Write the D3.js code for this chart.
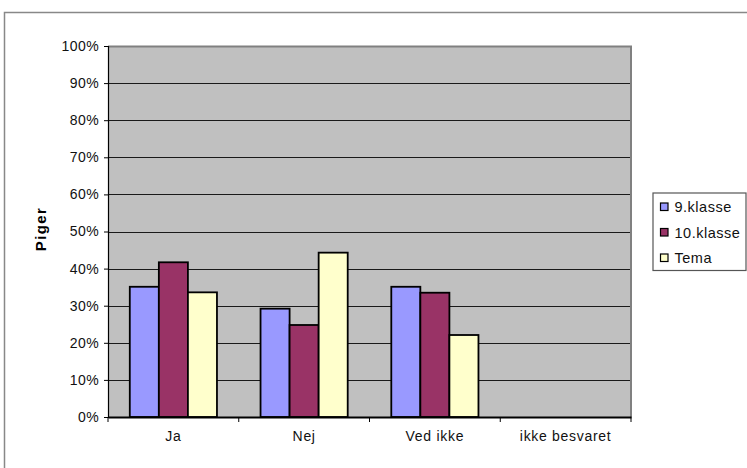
<!DOCTYPE html>
<html><head><meta charset="utf-8">
<script src="https://cdn.jsdelivr.net/npm/d3@7/dist/d3.min.js"></script>
<style>body{margin:0;background:#fff}svg{display:block;font-family:"Liberation Sans",Arial,sans-serif}</style>
</head><body><div id="chart"></div>
<script>
const categories = ["Ja", "Nej", "Ved ikke", "ikke besvaret"];
const seriesNames = ["9.klasse", "10.klasse", "Tema"];
const klasse9 = [35.1, 29.2, 35.1, 0];
const klasse10 = [41.7, 24.8, 33.5, 0];
const tema = [33.6, 44.3, 22.1, 0];
const yTicks = [0, 10, 20, 30, 40, 50, 60, 70, 80, 90, 100];
const colors = ["#9999FF", "#993366", "#FFFFCC"];
const seriesValues = [klasse9, klasse10, tema];

const W = 747, H = 468;
const svg = d3.select("#chart").append("svg").attr("width", W).attr("height", H);

// outer chart border
svg.append("rect").attr("x", 4.5).attr("y", 12.5).attr("width", 800).attr("height", 500)
  .attr("fill", "none").attr("stroke", "#888").attr("stroke-width", 1.5);

const L = 108, R = 631, T = 46, B = 417;
const x0 = d3.scaleBand().domain(categories).range([L, R]).paddingInner(0).paddingOuter(0);
const bw = x0.bandwidth();
const barW = bw / 4.5;
const x1 = d3.scaleBand().domain(seriesNames).range([0, barW * 3]);
const y = d3.scaleLinear().domain([0, 100]).range([B, T]);

// plot area
svg.append("rect").attr("x", L).attr("y", T).attr("width", R - L).attr("height", B - T)
  .attr("fill", "#C0C0C0");
// gridlines
svg.append("g").selectAll("line").data(yTicks.filter(d => d > 0)).join("line")
  .attr("x1", L).attr("x2", R).attr("y1", d => Math.round(y(d)) + 0.5).attr("y2", d => Math.round(y(d)) + 0.5)
  .attr("stroke", "#1a1a1a").attr("stroke-width", 1);
// top/right plot border gray
svg.append("path").attr("d", `M${L},${T + 0.5}H${R}V${B}`).attr("fill", "none")
  .attr("stroke", "#808080").attr("stroke-width", 2);

// bars
const groups = svg.append("g").selectAll("g").data(categories).join("g")
  .attr("transform", c => `translate(${x0(c) + (bw - barW * 3) / 2},0)`);
groups.selectAll("rect").data((c, i) => seriesNames.map((s, j) => ({ s, v: seriesValues[j][i], j })))
  .join("rect")
  .filter(d => d.v > 0)
  .attr("x", d => x1(d.s)).attr("width", x1.bandwidth())
  .attr("y", d => y(d.v)).attr("height", d => y(0) - y(d.v))
  .attr("fill", d => colors[d.j]).attr("stroke", "#000").attr("stroke-width", 1.8);

// y axis
const yAxis = d3.axisLeft(y).tickValues(yTicks).tickSize(4).tickPadding(5).tickFormat(d => d + "%");
const ya = svg.append("g").attr("transform", `translate(${L},0)`).call(yAxis);
ya.select(".domain").attr("stroke", "#000").attr("stroke-width", 1.2);
ya.selectAll(".tick line").attr("stroke", "#000");
ya.selectAll("text").attr("font-size", 14).attr("fill", "#111").attr("letter-spacing", "0.4px")
  .attr("font-family", "'Liberation Sans', Arial, sans-serif");

// x axis
const xAxis = d3.axisBottom(x0).tickSize(0).tickPadding(14);
const xa = svg.append("g").attr("transform", `translate(0,${B})`).call(xAxis);
xa.select(".domain").attr("stroke", "#000").attr("stroke-width", 2);
xa.selectAll("text").attr("font-size", 14).attr("fill", "#111").attr("letter-spacing", "0.7px")
  .attr("font-family", "'Liberation Sans', Arial, sans-serif");
// x tick marks at category boundaries
svg.append("g").selectAll("line").data(categories.map(c => x0(c)).concat([R])).join("line")
  .attr("x1", d => d).attr("x2", d => d).attr("y1", B).attr("y2", B + 5)
  .attr("stroke", "#000").attr("stroke-width", 1);

// axis title
svg.append("text").attr("transform", "translate(46,229) rotate(-90)")
  .attr("text-anchor", "middle").attr("font-size", 15).attr("font-weight", "bold")
  .attr("letter-spacing", "1.4px").text("Piger");

// legend
const lg = svg.append("g");
lg.append("rect").attr("x", 653).attr("y", 193).attr("width", 93).attr("height", 77.5)
  .attr("fill", "#fff").attr("stroke", "#555").attr("stroke-width", 1.2);
const items = lg.selectAll("g.item").data(seriesNames).join("g").attr("class", "item")
  .attr("transform", (d, i) => `translate(660,${206.5 + i * 25.5})`);
items.append("rect").attr("x", 0.5).attr("y", -3.5).attr("width", 7.5).attr("height", 7.5)
  .attr("fill", (d, i) => colors[i]).attr("stroke", "#000").attr("stroke-width", 1.2);
items.append("text").attr("x", 14.5).attr("y", 5.5).attr("font-size", 14.5).attr("fill", "#111")
  .attr("letter-spacing", "0.5px").text(d => d);
</script></body></html>
